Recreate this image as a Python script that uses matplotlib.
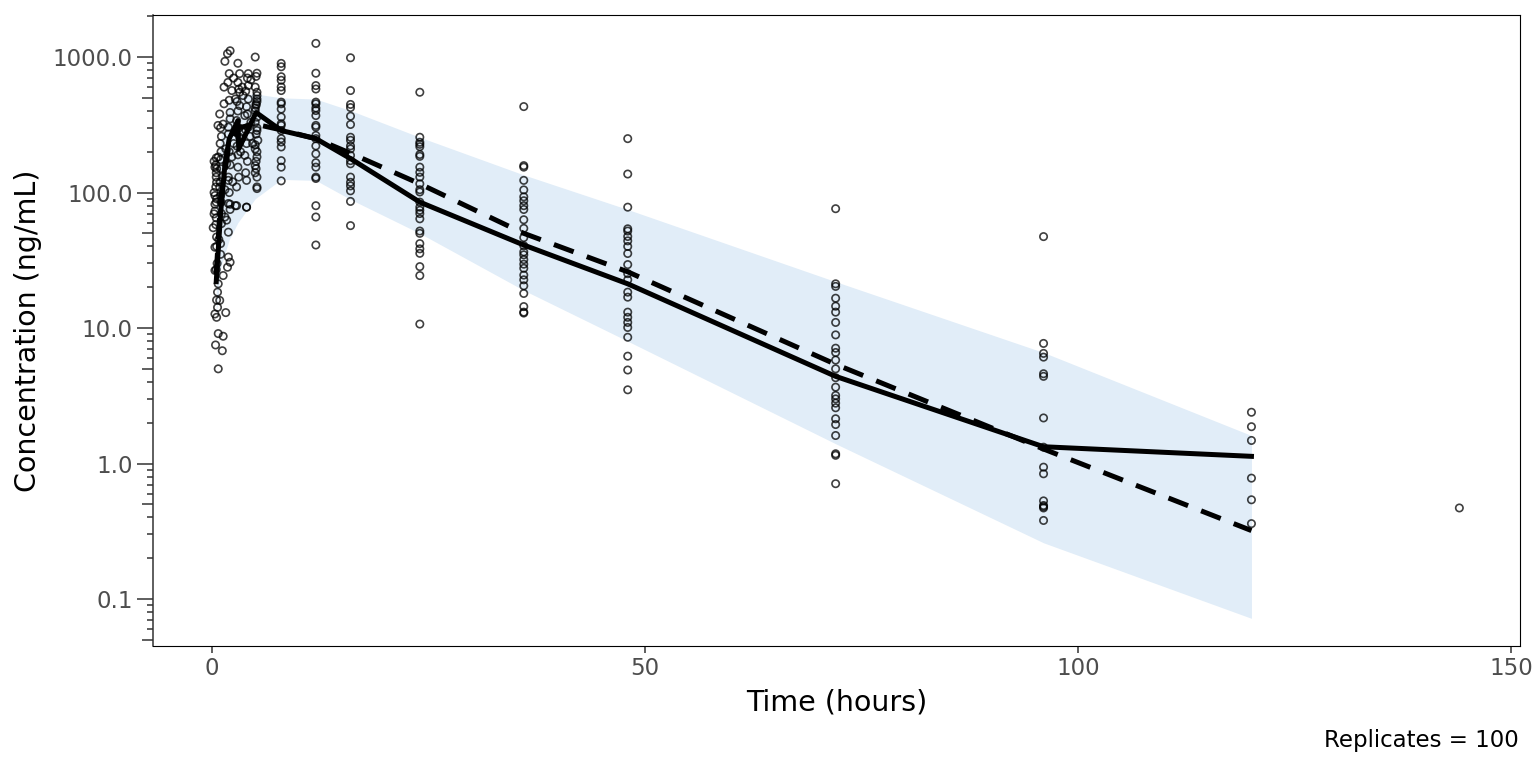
import numpy as np
import matplotlib
matplotlib.use("Agg")
import matplotlib.pyplot as plt

# observed data: early absorption phase (time, conc) pairs
early_time = [0.73, 0.42, 1.2, 0.73, 1.3, 1.6, 0.54, 0.35, 0.65, 0.54, 0.9, 0.65, 0.73, 1.3,
              0.35, 1.8, 2.1, 1.9, 0.35, 0.54, 1.9, 0.15, 1.7, 0.25, 0.35, 2.85, 4.0, 1.9,
              2.1, 1.8, 1.5, 3.0, 5.0, 2.0, 3.2, 4.2, 5.2, 1.85, 3.0, 4.2, 1.4, 2.3, 3.2, 5.2,
              2.7, 4.2, 5.2, 1.4, 3.2, 5.0, 0.9, 2.1, 3.8, 5.2, 0.7, 1.9, 2.85, 4.2, 5.2, 1.1,
              3.2, 4.4, 5.3, 0.73, 2.3, 3.8, 5.2, 0.35, 1.7, 3.0, 5.0, 0.54, 1.9, 4.0, 5.2,
              0.35, 2.1, 2.85, 4.0, 0.35, 1.5, 2.7, 1.1,
              0.25, 0.5, 0.25, 1.0, 1.2, 1.5, 1.0, 0.5, 1.6, 2.5, 3.5, 4.5, 5.0, 5.1, 5.2,
              3.5, 2.5, 4.5, 5.0, 5.1, 5.2, 2.4, 3.3, 3.6, 1.3, 4.7, 0.8, 1.0, 0.6, 1.1, 0.9,
              5.1, 5.0, 5.2, 5.1, 5.0, 5.2, 5.1, 5.0, 5.2, 5.1, 5.0, 5.2,
              4.1, 3.9, 4.0, 4.1, 3.9, 4.0, 4.1, 3.9,
              3.1, 2.9, 3.0, 3.1, 2.9, 3.0, 3.1,
              2.0, 2.1, 1.9, 2.0, 2.1, 1.9, 2.0, 2.1,
              1.0, 0.95, 1.05, 1.0, 0.95, 1.05, 1.0,
              0.5, 0.45, 0.55, 0.5, 0.45, 0.55, 0.5, 0.45, 0.55, 0.5]
early_conc = [5.0, 7.5, 6.8, 9.1, 8.7, 13.0, 12.0, 12.7, 14.2, 16.1, 16, 18.4, 21.2, 24.4,
              26.6, 28.1, 30.6, 33.4, 39.5, 47, 51, 55, 62.6, 69.6, 82, 80, 78, 83,
              1113, 1060, 930, 900, 1000, 755, 755, 755, 760, 650, 650, 616, 600, 566, 550, 550,
              490, 490, 490, 452, 438, 420, 380, 390, 370, 360, 313, 304, 340, 304, 287, 260,
              256, 260, 243, 183, 183, 188, 183, 154, 163, 154, 158, 119, 123, 123, 110,
              95, 82, 110, 78, 73, 66, 80, 59,
              100, 140, 170, 175, 130, 105, 95, 85, 210, 230, 280, 330, 400, 450, 520,
              600, 700, 680, 210, 150, 130, 120, 200, 520, 320, 230, 45, 35, 30, 70, 110,
              720, 600, 470, 440, 330, 300, 270, 225, 200, 170, 140, 107,
              700, 560, 430, 380, 290, 230, 170, 140,
              580, 470, 400, 300, 220, 190, 130,
              480, 350, 270, 200, 160, 130, 100, 75,
              300, 230, 200, 150, 120, 85, 42,
              180, 160, 150, 130, 110, 90, 65, 58, 40, 27]

# observed data: later nominal sampling times
late_times = [8, 12, 16, 24, 36, 48, 72, 96, 120, 144]
late_conc = [
    [898, 848, 716, 674, 602, 566, 465, 452, 413, 361, 322, 313, 287, 250, 236, 217, 172, 154, 122],
    [1262, 760, 616, 581, 465, 452, 421, 403, 370, 313, 304, 264, 250, 221, 193, 166, 154, 130,
     127, 80, 66, 41],
    [988, 566, 447, 424, 366, 318, 256, 243, 221, 210, 188, 172, 163, 130, 119, 112, 103, 86, 57],
    [550, 256, 235, 227, 218, 191, 185, 154, 141, 130, 116, 105, 101, 85, 78, 74, 70, 64, 52, 50,
     42, 38.4, 35.6, 28.4, 24.4, 10.7],
    [431, 158, 154, 123, 104.6, 93, 87, 80, 75, 63, 54.4, 46.5, 40.5, 36.5, 34.7, 32, 29.6, 27.6,
     24.6, 22.7, 20.5, 18, 14.4, 13.1, 12.9],
    [250, 137, 78, 54, 52, 47.4, 44, 40, 35.5, 29.4, 25.2, 22.7, 18.4, 16.9, 13.1, 12.0, 11.0,
     10.1, 8.55, 6.2, 4.9, 3.5],
    [76, 21.2, 20.3, 16.6, 14.5, 13.1, 11.0, 8.9, 7.1, 6.6, 5.8, 5.0, 4.3, 3.66, 3.18, 3.0, 2.79,
     2.58, 2.14, 1.94, 1.61, 1.18, 1.15, 0.71],
    [47.3, 7.7, 6.5, 6.1, 4.6, 4.4, 2.17, 1.32, 0.94, 0.84, 0.53, 0.48, 0.47, 0.49, 0.38],
    [2.39, 1.87, 1.48, 0.78, 0.54, 0.36],
    [0.47],
]

# observed median
obs_time = [0.5, 1.0, 1.5, 2.0, 3.0, 3.1, 5.1, 8, 12, 16, 24, 36, 48, 72, 96, 120]
obs_median = [22, 70, 160, 250, 340, 210, 390, 287, 250, 178, 85, 41, 21.2, 4.4, 1.33, 1.13]

# simulated median and prediction interval
sim_time = [0.5, 1, 2, 3, 5, 8, 12, 16, 24, 36, 48, 72, 96, 120]
sim_median = [25, 90, 230, 300, 320, 290, 250, 195, 116, 50, 26, 5.4, 1.28, 0.32]
sim_lo = [12, 28, 45, 60, 90, 125, 123, 89, 50, 19, 8.0, 1.4, 0.26, 0.072]
sim_hi = [80, 250, 470, 520, 535, 500, 490, 403, 256, 135, 75, 22, 6.6, 1.61]

n_rep = 100

scatter_t = list(early_time)
scatter_c = list(early_conc)
for t, vals in zip(late_times, late_conc):
    scatter_t += [t] * len(vals)
    scatter_c += vals

fig = plt.figure(figsize=(15.36, 7.68), dpi=100)
ax = fig.add_axes([153 / 1536, 122 / 768, (1520 - 153) / 1536, (646 - 15) / 768])

ax.fill_between(sim_time, sim_lo, sim_hi, color="#e1edf8", lw=0, zorder=1)
ax.scatter(scatter_t, scatter_c, s=28, facecolors="none", edgecolors="black",
           linewidths=1.2, alpha=0.75, zorder=2)
ax.plot(obs_time, obs_median, color="black", lw=3.6, zorder=4, solid_joinstyle="round")
ax.plot(sim_time, sim_median, color="black", lw=3.6, ls=(0, (4.2, 2.8)), zorder=3)

ax.set_yscale("log")
ax.set_xlim(-6.8, 151)
ax.set_ylim(0.045, 2044)

ax.set_xticks([0, 50, 100, 150])
ax.set_xticklabels(["0", "50", "100", "150"])
ax.set_yticks([0.1, 1, 10, 100, 1000])
ax.set_yticklabels(["0.1", "1.0", "10.0", "100.0", "1000.0"])

minor = [m * 10.0 ** k for k in range(-2, 4) for m in (2, 3, 4, 6, 7, 8, 9)]
ax.set_yticks([v for v in minor if 0.045 <= v <= 2044], minor=True)
ax.tick_params(axis="y", which="major", length=11.5, width=1.1, color="#333333",
               labelcolor="#4d4d4d", labelsize=16.5, pad=3)
ax.tick_params(axis="y", which="minor", length=4.3, width=1.1, color="#333333")
ax.tick_params(axis="x", which="major", length=5, width=1.1, color="#333333",
               labelcolor="#4d4d4d", labelsize=16.5, pad=3)

# mid-length log ticks at 5 x 10^k
sec = ax.secondary_yaxis("left")
sec.set_yscale("log")
sec.set_yticks([0.05, 0.5, 5, 50, 500])
sec.set_yticks([], minor=True)
sec.set_yticklabels([])
sec.tick_params(axis="y", which="major", length=8, width=1.1, color="#333333")
sec.spines["left"].set_visible(False)

for side in ["top", "right", "bottom"]:
    ax.spines[side].set_color("black")
    ax.spines[side].set_linewidth(0.8)
ax.spines["left"].set_color("#333333")
ax.spines["left"].set_linewidth(1.1)

ax.set_xlabel("Time (hours)", fontsize=20.5, labelpad=6)
ax.set_ylabel("Concentration (ng/mL)", fontsize=20.5, labelpad=8)
fig.text(1519 / 1536, 1 - 741 / 768, f"Replicates = {n_rep}", ha="right", va="center",
         fontsize=16.5)

fig.savefig("out.png", dpi=100)
